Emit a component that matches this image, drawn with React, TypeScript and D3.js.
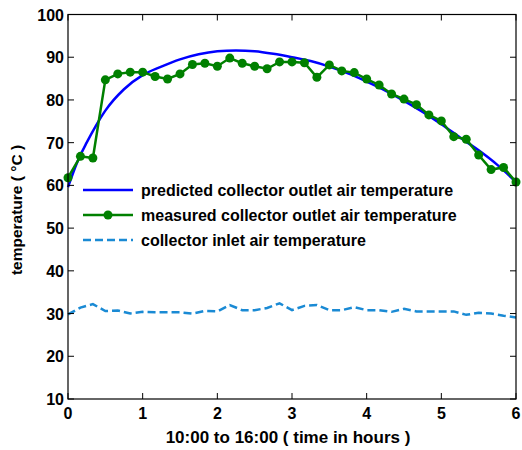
import React from 'react';
import * as d3 from 'd3';

// readings every 10 minutes, 10:00 to 16:00
const hours = d3.range(37).map((i) => i / 6);

const measured = [
  61.8, 66.8, 66.4, 84.7, 86.1, 86.5, 86.5, 85.5, 84.9, 86.1, 88.3, 88.6, 87.9,
  89.8, 88.6, 87.9, 87.3, 88.9, 88.9, 88.7, 85.3, 88.2, 86.8, 86.4, 84.9, 83.5,
  81.4, 80.2, 78.9, 76.5, 75.1, 71.4, 70.8, 67.1, 63.7, 64.2, 60.8,
];

const inlet = [
  29.8, 31.4, 32.2, 30.6, 30.7, 30.0, 30.4, 30.3, 30.3, 30.3, 30.0, 30.6, 30.5,
  32.0, 30.8, 30.8, 31.3, 32.4, 30.8, 31.8, 32.0, 30.8, 30.8, 31.5, 30.8, 30.8,
  30.4, 31.1, 30.5, 30.5, 30.5, 30.5, 29.7, 30.2, 30.0, 29.5, 29.1,
];

const predHours = [
  0, 0.125, 0.25, 0.375, 0.5, 0.75, 1, 1.25, 1.5, 1.75, 2, 2.25, 2.5, 2.75, 3,
  3.25, 3.5, 3.75, 4, 4.25, 4.5, 4.75, 5, 5.25, 5.5, 5.75, 6,
];
const predicted = [
  59.6, 65.5, 70.0, 74.0, 77.5, 82.5, 85.8, 87.8, 89.5, 90.7, 91.4, 91.6, 91.4,
  90.8, 90.0, 89.1, 87.8, 86.2, 84.3, 82.2, 79.8, 77.2, 74.3, 71.2, 68.2, 64.8,
  60.8,
];

const xTicks = [0, 1, 2, 3, 4, 5, 6];
const yTicks = [10, 20, 30, 40, 50, 60, 70, 80, 90, 100];

const legendItems = [
  { label: 'predicted collector outlet air temperature', color: '#0000ff', dash: null, marker: false },
  { label: 'measured collector outlet air temperature', color: '#008000', dash: null, marker: true },
  { label: 'collector inlet air temperature', color: '#1a8ad4', dash: '8,4', marker: false },
];

const W = 522;
const H = 450;
const left = 68;
const right = 516;
const top = 14.5;
const bottom = 399;
const font = '"Liberation Sans", Arial, sans-serif';

const App = () => {
  const x = d3.scaleLinear().domain([0, 6]).range([left, right]);
  const y = d3.scaleLinear().domain([10, 100]).range([bottom, top]);

  const predPath = d3
    .line<[number, number]>()
    .x((d) => x(d[0]))
    .y((d) => y(d[1]))
    .curve(d3.curveMonotoneX)(predHours.map((h, i) => [h, predicted[i]]));
  const measPath = d3
    .line<[number, number]>()
    .x((d) => x(d[0]))
    .y((d) => y(d[1]))(hours.map((h, i) => [h, measured[i]]));
  const inletPath = d3
    .line<[number, number]>()
    .x((d) => x(d[0]))
    .y((d) => y(d[1]))(hours.map((h, i) => [h, inlet[i]]));

  const tick = 6;

  return (
    <svg
      width={W}
      height={H}
      style={{ position: 'absolute', left: 0, top: 0, background: '#fff' }}
      fontFamily={font}
      fontWeight="bold"
    >
      <rect x={0} y={0} width={W} height={H} fill="#fff" />

      {/* data */}
      <path d={inletPath || ''} fill="none" stroke="#1a8ad4" strokeWidth={2.5} strokeDasharray="8,4" />
      <path d={predPath || ''} fill="none" stroke="#0000ff" strokeWidth={2.5} />
      <path d={measPath || ''} fill="none" stroke="#008000" strokeWidth={2.5} />
      {hours.map((h, i) => (
        <circle key={i} cx={x(h)} cy={y(measured[i])} r={4.5} fill="#008000" />
      ))}

      {/* box and ticks */}
      <rect x={left} y={top} width={right - left} height={bottom - top} fill="none" stroke="#000" strokeWidth={1.2} />
      {xTicks.map((t) => (
        <g key={'x' + t}>
          <line x1={x(t)} x2={x(t)} y1={bottom} y2={bottom - tick} stroke="#000" />
          <line x1={x(t)} x2={x(t)} y1={top} y2={top + tick} stroke="#000" />
          <text x={x(t)} y={bottom + 20} textAnchor="middle" fontSize={16}>
            {t}
          </text>
        </g>
      ))}
      {yTicks.map((t) => (
        <g key={'y' + t}>
          <line x1={left} x2={left + tick} y1={y(t)} y2={y(t)} stroke="#000" />
          <line x1={right} x2={right - tick} y1={y(t)} y2={y(t)} stroke="#000" />
          <text x={left - 4} y={y(t) + 6} textAnchor="end" fontSize={16}>
            {t}
          </text>
        </g>
      ))}

      {/* axis titles */}
      <text x={(left + right) / 2 - 4} y={443} textAnchor="middle" fontSize={17}>
        10:00 to 16:00 ( time in hours )
      </text>
      <text transform={`translate(22,210) rotate(-90)`} textAnchor="middle" fontSize={15.5}>
        temperature ( °C )
      </text>

      {/* legend */}
      {legendItems.map((item, i) => {
        const ly = 190 + i * 25;
        return (
          <g key={item.label}>
            <line
              x1={83}
              x2={133}
              y1={ly}
              y2={ly}
              stroke={item.color}
              strokeWidth={2.5}
              strokeDasharray={item.dash || undefined}
            />
            {item.marker && <circle cx={108} cy={ly} r={4.5} fill={item.color} />}
            <text x={141} y={ly + 6} fontSize={16}>
              {item.label}
            </text>
          </g>
        );
      })}
    </svg>
  );
};

export default App;
